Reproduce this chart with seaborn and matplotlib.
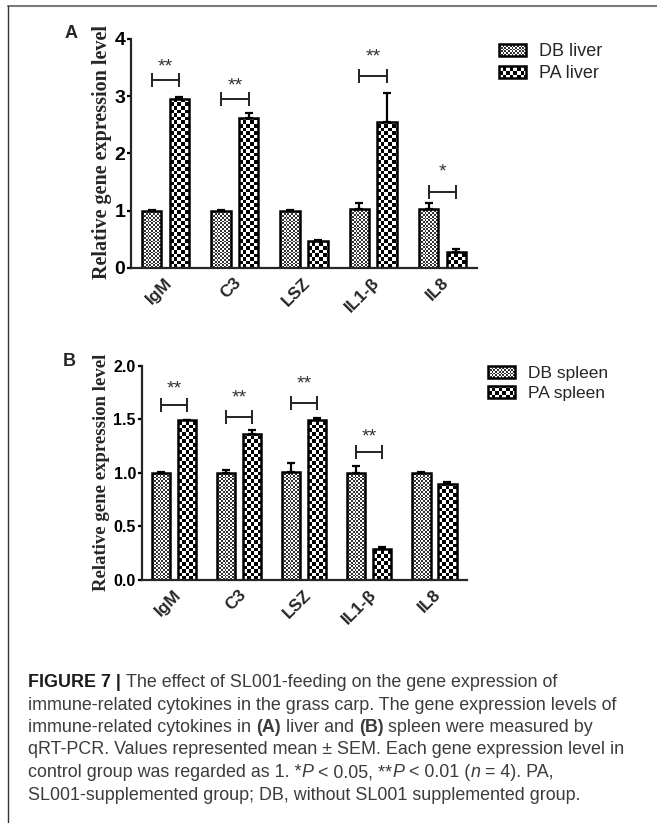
import numpy as np
import pandas as pd
import matplotlib
matplotlib.use("Agg")
import matplotlib.pyplot as plt
import matplotlib.transforms as mtransforms
import seaborn as sns
from matplotlib.colors import ListedColormap
from matplotlib.patches import Rectangle
from matplotlib.legend_handler import HandlerPatch
from matplotlib.lines import Line2D

genes = ["IgM", "C3", "LSZ", "IL1-β", "IL8"]

# panel A, liver (mean, SEM)
liver_db = [1.00, 1.00, 1.00, 1.03, 1.03]
liver_db_sem = [0.01, 0.01, 0.01, 0.10, 0.10]
liver_pa = [2.95, 2.62, 0.48, 2.55, 0.28]
liver_pa_sem = [0.03, 0.08, 0.01, 0.51, 0.05]

# panel B, spleen
spleen_db = [1.00, 1.00, 1.01, 1.00, 1.00]
spleen_db_sem = [0.01, 0.03, 0.08, 0.06, 0.01]
spleen_pa = [1.49, 1.36, 1.49, 0.29, 0.90]
spleen_pa_sem = [0.005, 0.04, 0.02, 0.02, 0.01]

# significance marks: gene index, bracket height, star height
liver_sig_idx = [0, 1, 3, 4]
liver_sig_y = [3.28, 2.96, 3.35, 1.33]
liver_star_y = [3.62, 3.30, 3.80, 1.79]
liver_stars = ["**", "**", "**", "*"]

spleen_sig_idx = [0, 1, 2, 3]
spleen_sig_y = [1.63, 1.52, 1.65, 1.19]
spleen_star_y = [1.84, 1.76, 1.89, 1.40]
spleen_stars = ["**", "**", "**", "**"]

W, H = 657, 823
DB_CELL, PA_CELL = 1.8, 3.6   # checker cell size in pixels

sns.set_theme(style="ticks")
plt.rcParams["font.family"] = ["Liberation Sans", "DejaVu Sans"]

fig = plt.figure(figsize=(W / 100, H / 100), dpi=100)


def fx(px):
    return px / W


def fy(py):
    return 1 - py / H


def checker(ax, patch, cell_px, dark, light):
    x0, y0 = patch.get_x(), patch.get_y()
    w, h = patch.get_width(), patch.get_height()
    (px0, py0), (px1, py1) = ax.transData.transform([(x0, y0), (x0 + w, y0 + h)])
    nx = int(np.ceil((px1 - px0) / cell_px))
    ny = int(np.ceil((py1 - py0) / cell_px))
    inv = ax.transData.inverted()
    ex1, ey1 = inv.transform((px0 + nx * cell_px, py0 + ny * cell_px))
    grid = np.indices((ny, nx)).sum(axis=0) % 2
    im = ax.imshow(grid, extent=(x0, ex1, y0, ey1), origin="lower",
                   cmap=ListedColormap([light, dark]), interpolation="nearest",
                   aspect="auto", zorder=patch.get_zorder() - 0.05)
    im.set_clip_path(patch)


class CheckerHandler(HandlerPatch):
    def __init__(self, cell_px, dark, light):
        super().__init__()
        self.cell = cell_px * 72 / 100
        self.dark = dark
        self.light = light

    def create_artists(self, legend, orig_handle, xdescent, ydescent,
                       width, height, fontsize, trans):
        x0, y0 = -xdescent, -ydescent
        arts = [Rectangle((x0, y0), width, height, facecolor=self.light,
                          edgecolor="none", transform=trans)]
        c = self.cell
        nx = int(np.ceil(width / c))
        ny = int(np.ceil(height / c))
        for i in range(ny):
            for j in range(nx):
                if (i + j) % 2:
                    rw = min(c, width - j * c)
                    rh = min(c, height - i * c)
                    arts.append(Rectangle((x0 + j * c, y0 + i * c), rw, rh,
                                          facecolor=self.dark, edgecolor="none",
                                          transform=trans))
        arts.append(Rectangle((x0, y0), width, height, facecolor="none",
                              edgecolor="black", lw=1.8, transform=trans))
        return arts


def panel(rect, db, db_sem, pa, pa_sem, labels, ymax, yticks, ytick_size,
          sig_idx, sig_y, star_y, stars, leg_xy, leg_size, label_xy, ylab_xy,
          ylab_size, letter, letter_xy):
    ax = fig.add_axes(rect)
    df = pd.DataFrame({
        "gene": genes * 2,
        "group": [labels[0]] * len(genes) + [labels[1]] * len(genes),
        "value": db + pa,
    })
    sns.barplot(data=df, x="gene", y="value", hue="group", order=genes,
                hue_order=labels, palette=["white", "white"], width=0.8, gap=0.3,
                errorbar=None, edgecolor="black", linewidth=1.8, legend=False,
                ax=ax)
    ax.set_xlim(-0.5, len(genes) - 0.5)
    ax.set_ylim(0, ymax)
    ax.set_autoscale_on(False)

    for cont, sems, cell, dark, light in [
        (ax.containers[0], db_sem, DB_CELL, "#333333", "white"),
        (ax.containers[1], pa_sem, PA_CELL, "black", "white"),
    ]:
        xs, ys = [], []
        for p in cont.patches:
            checker(ax, p, cell, dark, light)
            p.set_facecolor("none")
            xs.append(p.get_x() + p.get_width() / 2)
            ys.append(p.get_height())
        ax.errorbar(xs, ys, yerr=[np.zeros(len(sems)), sems], fmt="none",
                    ecolor="black", elinewidth=1.6, capsize=3.2, capthick=1.6,
                    zorder=3)

    ax.errorbar(sig_idx, sig_y, xerr=0.2, fmt="none", ecolor="#222222",
                elinewidth=1.4, capsize=5, capthick=1.4, zorder=3)
    for i, sy, s in zip(sig_idx, star_y, stars):
        ax.annotate(s, (i, sy), xytext=(0, -8), textcoords="offset points",
                    ha="center", va="baseline", fontsize=14, color="#333333")

    sns.despine(ax=ax)
    for side in ["left", "bottom"]:
        ax.spines[side].set_linewidth(1.6)
    ax.set_xlabel("")
    ax.set_ylabel("")
    ax.set_yticks(yticks)
    ax.set_yticklabels([f"{t:g}" if ymax > 2 else f"{t:.1f}" for t in yticks],
                       fontsize=ytick_size, fontweight="bold")
    ax.tick_params(axis="y", length=3, width=1.6, pad=1, colors="black")
    ax.tick_params(axis="x", length=0, pad=4)
    ax.set_xticks(range(len(genes)))
    ax.set_xticklabels(genes, rotation=45, ha="right", va="center",
                       rotation_mode="anchor", fontsize=12.5, fontweight="bold")
    off = mtransforms.ScaledTranslation(label_xy[0] / 72, label_xy[1] / 72,
                                        fig.dpi_scale_trans)
    for lab in ax.get_xticklabels():
        lab.set_transform(lab.get_transform() + off)

    h1 = Rectangle((0, 0), 1, 1)
    h2 = Rectangle((0, 0), 1, 1)
    fs_px = leg_size * 100 / 72
    ax.legend([h1, h2], labels,
              handler_map={h1: CheckerHandler(DB_CELL, "#333333", "white"),
                           h2: CheckerHandler(PA_CELL, "black", "white")},
              loc="upper left", bbox_to_anchor=leg_xy,
              bbox_transform=fig.transFigure, frameon=False, borderpad=0,
              borderaxespad=0, fontsize=leg_size, handlelength=27 / fs_px,
              handleheight=12 / fs_px, handletextpad=13 / fs_px,
              labelspacing=0.3)

    fig.text(ylab_xy[0], ylab_xy[1], "Relative gene expression level",
             rotation=90, ha="center", va="center", fontsize=ylab_size,
             fontweight="bold", family=["Liberation Serif", "DejaVu Serif"])
    fig.text(letter_xy[0], letter_xy[1], letter, fontsize=13,
             fontweight="bold", ha="left", va="baseline")
    return ax


panel([fx(131), fy(268), fx(477 - 131), (268 - 39) / H],
      liver_db, liver_db_sem, liver_pa, liver_pa_sem,
      ["DB liver", "PA liver"], 4, [0, 1, 2, 3, 4], 14,
      liver_sig_idx, liver_sig_y, liver_star_y, liver_stars,
      (fx(499), fy(43)), 13, (3, -5), (fx(102), fy(152)), 14.5,
      "A", (fx(65), fy(38)))

panel([fx(141.5), fy(580), fx(467 - 141.5), (580 - 365.7) / H],
      spleen_db, spleen_db_sem, spleen_pa, spleen_pa_sem,
      ["DB spleen", "PA spleen"], 2, [0, 0.5, 1.0, 1.5, 2.0], 11.5,
      spleen_sig_idx, spleen_sig_y, spleen_star_y, spleen_stars,
      (fx(488), fy(366)), 12.5, (3, -5), (fx(101), fy(472)), 13.5,
      "B", (fx(63), fy(366)))

# frame lines
fig.add_artist(Line2D([fx(8), 1], [fy(6), fy(6)], transform=fig.transFigure,
                      color="#7a7a7a", lw=1.5))
fig.add_artist(Line2D([fx(8), fx(8)], [fy(6), 0], transform=fig.transFigure,
                      color="#333333", lw=1.0))

# caption
caption = [
    [("FIGURE 7 | ", "bold", "normal"),
     ("The effect of SL001-feeding on the gene expression of", "normal", "normal")],
    [("immune-related cytokines in the grass carp. The gene expression levels of",
      "normal", "normal")],
    [("immune-related cytokines in ", "normal", "normal"), ("(A)", "bold", "normal"),
     (" liver and ", "normal", "normal"), ("(B)", "bold", "normal"),
     (" spleen were measured by", "normal", "normal")],
    [("qRT-PCR. Values represented mean ± SEM. Each gene expression level in",
      "normal", "normal")],
    [("control group was regarded as 1. *", "normal", "normal"), ("P", "normal", "italic"),
     (" < 0.05, **", "normal", "normal"), ("P", "normal", "italic"),
     (" < 0.01 (", "normal", "normal"), ("n", "normal", "italic"),
     (" = 4). PA,", "normal", "normal")],
    [("SL001-supplemented group; DB, without SL001 supplemented group.",
      "normal", "normal")],
]
renderer = fig.canvas.get_renderer()
probe = fig.text(0, 0, caption[3][0][0], fontsize=12)
cap_size = 12 * 595 / probe.get_window_extent(renderer).width
probe.remove()

baselines = [687, 709.5, 732, 754.5, 777, 799.5]
for line, by in zip(caption, baselines):
    x = fx(28)
    for txt, weight, style in line:
        color = "#1a1a1a" if weight == "bold" and txt.startswith("FIGURE") else "#3c3c3c"
        t = fig.text(x, fy(by), txt, fontsize=cap_size, fontweight=weight,
                     fontstyle=style, color=color, ha="left", va="baseline")
        x += t.get_window_extent(renderer).width / W

fig.savefig("out.png", dpi=100)
